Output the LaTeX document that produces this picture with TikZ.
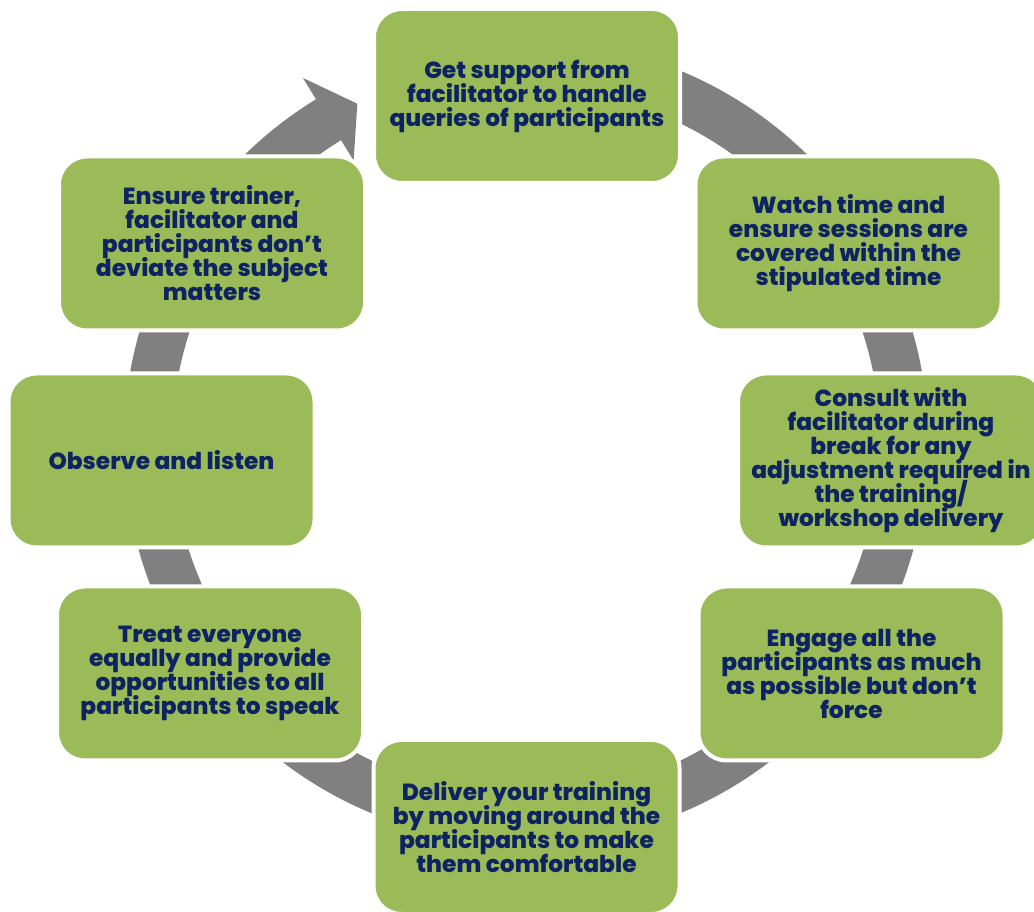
\documentclass[tikz,border=0pt]{standalone}
\usepackage{fontspec}
\setmainfont{Poppins}[BoldFont={* ExtraBold}]
\usetikzlibrary{calc}
\definecolor{boxgreen}{RGB}{155,187,89}
\definecolor{ringgray}{RGB}{128,128,128}
\definecolor{navy}{RGB}{14,36,98}
\newcommand\mytightlines{\setlength{\lineskiplimit}{-50pt}\setlength{\lineskip}{0pt}}
\begin{document}
\begin{tikzpicture}[x=1pt,y=1pt,
  stepbox/.style={rectangle, rounded corners=28pt, fill=boxgreen, draw=white, line width=4pt,
    minimum width=306pt, minimum height=174pt, align=center, text=navy,
    font=\fontsize{23.3}{24}\selectfont\bfseries\mytightlines, inner sep=0pt}]
\useasboundingbox (0,0) rectangle (1034,911);
\clip (0,0) rectangle (1034,911);
\coordinate (c) at (526,469);
% ring with arrowhead
\fill[ringgray] ($(c)+(80:402pt)$) arc[start angle=80, end angle=-238.5, radius=402pt]
  -- ($(c)+(-238.5:427pt)$) -- ($(c)+(-243.5:378pt)$) -- ($(c)+(-238.5:330pt)$)
  -- ($(c)+(-238.5:354pt)$) arc[start angle=-238.5, end angle=80, radius=354pt] -- cycle;
% boxes
\node[stepbox] (top) at (527,815) {Get support from\\facilitator to handle\\queries of participants};
\node[stepbox] (watch) at (848.5,667.5) {Watch time and\\ensure sessions are\\covered within the\\stipulated time};
\node[stepbox] (consult) at (891,450.5) {Consult with\\facilitator during\\break for any\\adjustment required in\\the training/\\workshop delivery};
\node[stepbox] (engage) at (851.5,237.5) {Engage all the\\participants as much\\as possible but don’t\\force};
\node[stepbox] (deliver) at (526.5,84) {Deliver your training\\by moving around the\\participants to make\\them comfortable};
\node[stepbox] (treat) at (210,237.5) {Treat everyone\\equally and provide\\opportunities to all\\participants to speak};
\node[stepbox] (observe) at (161.5,450.5) {Observe and listen};
\node[stepbox] (ensure) at (212,667.5) {Ensure trainer,\\facilitator and\\participants don’t\\deviate the subject\\matters};
\end{tikzpicture}
\end{document}
